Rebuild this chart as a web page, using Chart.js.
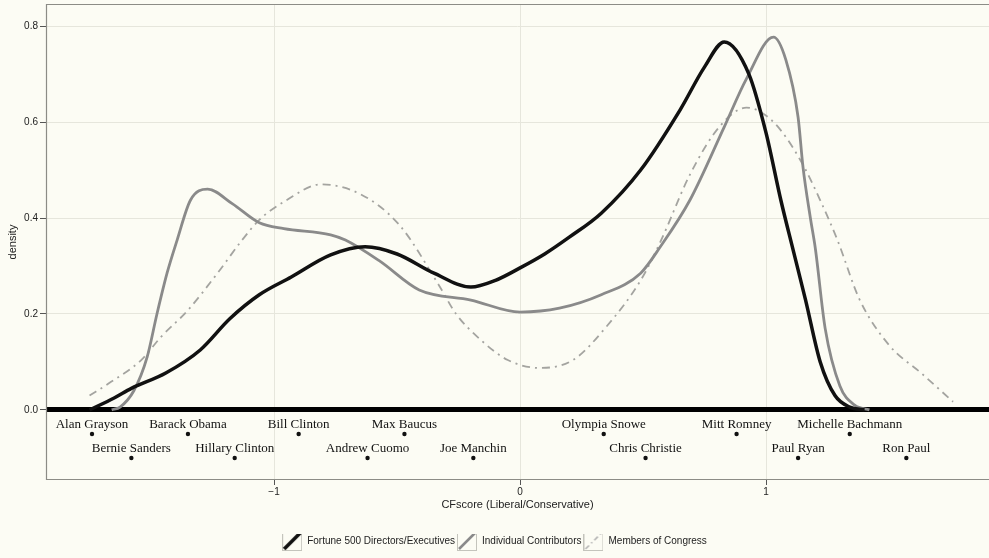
<!DOCTYPE html>
<html>
<head>
<meta charset="utf-8">
<script src="https://cdn.jsdelivr.net/npm/chart.js@4.4.1/dist/chart.umd.min.js"></script>
<style>
html, body { margin: 0; padding: 0; background: #fcfcf4; }
</style>
</head>
<body>
<canvas id="chart" width="989" height="558"></canvas>
<script>
'use strict';

// density curves
let fortuneX = [-1.75, -1.65, -1.58, -1.44, -1.30, -1.18, -1.06, -0.93, -0.77, -0.63, -0.50, -0.35, -0.20, -0.10, 0.00, 0.10, 0.20, 0.33, 0.49, 0.65, 0.75, 0.83, 0.93, 1.00, 1.06, 1.11, 1.16, 1.22, 1.28, 1.34, 1.40];
let fortuneY = [0.000, 0.025, 0.045, 0.077, 0.125, 0.190, 0.240, 0.277, 0.323, 0.340, 0.325, 0.285, 0.256, 0.270, 0.296, 0.325, 0.360, 0.410, 0.500, 0.625, 0.715, 0.767, 0.700, 0.577, 0.437, 0.333, 0.230, 0.100, 0.030, 0.006, 0.000];

let indivX = [-1.66, -1.626, -1.57, -1.516, -1.476, -1.435, -1.394, -1.34, -1.27, -1.17, -1.06, -0.96, -0.77, -0.71, -0.57, -0.41, -0.20, 0.00, 0.16, 0.33, 0.49, 0.57, 0.69, 0.83, 0.92, 1.03, 1.08, 1.13, 1.15, 1.18, 1.20, 1.24, 1.30, 1.36, 1.42];
let indivY = [0.000, 0.006, 0.040, 0.110, 0.200, 0.285, 0.354, 0.437, 0.460, 0.430, 0.390, 0.378, 0.365, 0.354, 0.310, 0.250, 0.229, 0.204, 0.212, 0.240, 0.285, 0.340, 0.437, 0.590, 0.690, 0.777, 0.730, 0.610, 0.506, 0.400, 0.337, 0.170, 0.050, 0.010, 0.000];

let congressX = [-1.75, -1.67, -1.54, -1.46, -1.35, -1.23, -1.13, -1.06, -0.95, -0.81, -0.65, -0.49, -0.33, -0.26, -0.16, -0.05, 0.08, 0.215, 0.35, 0.49, 0.57, 0.69, 0.81, 0.92, 1.03, 1.14, 1.22, 1.29, 1.38, 1.50, 1.63, 1.76];
let congressY = [0.030, 0.056, 0.104, 0.152, 0.208, 0.285, 0.354, 0.396, 0.437, 0.470, 0.450, 0.385, 0.260, 0.200, 0.146, 0.104, 0.0875, 0.104, 0.173, 0.270, 0.350, 0.490, 0.590, 0.630, 0.600, 0.520, 0.437, 0.354, 0.230, 0.135, 0.077, 0.017];

let seriesNames = ['Fortune 500 Directors/Executives', 'Individual Contributors', 'Members of Congress'];

// politicians shown under the axis
let polNames = ['Alan Grayson', 'Bernie Sanders', 'Barack Obama', 'Hillary Clinton', 'Bill Clinton', 'Andrew Cuomo', 'Max Baucus', 'Joe Manchin', 'Olympia Snowe', 'Chris Christie', 'Mitt Romney', 'Paul Ryan', 'Michelle Bachmann', 'Ron Paul'];
let polScore = [-1.74, -1.58, -1.35, -1.16, -0.90, -0.62, -0.47, -0.19, 0.34, 0.51, 0.88, 1.13, 1.34, 1.57];
let polRow = [-0.05, -0.10, -0.05, -0.10, -0.05, -0.10, -0.05, -0.10, -0.05, -0.10, -0.05, -0.10, -0.05, -0.10];

let xTicks = [-1, 0, 1];
let yTicks = [0, 0.2, 0.4, 0.6, 0.8];

const bg = '#fcfcf4';

function pts(xs, ys) {
    return xs.map((x, i) => ({ x: x, y: ys[i] }));
}

function legendIcon(color, width, dash) {
    let c = document.createElement('canvas');
    c.width = 20;
    c.height = 20;
    let g = c.getContext('2d');
    g.fillStyle = bg;
    g.fillRect(0, 0, 20, 20);
    g.strokeStyle = '#c4c4bc';
    g.lineWidth = 1;
    g.strokeRect(0.5, 0.5, 19, 19);
    g.strokeStyle = color;
    g.lineWidth = width;
    g.setLineDash(dash);
    g.beginPath();
    g.moveTo(2, 18);
    g.lineTo(18, 2);
    g.stroke();
    return c;
}

let icons = [
    legendIcon('#111', 3.5, []),
    legendIcon('#8a8a8a', 2.5, []),
    legendIcon('#b0b0b0', 1.5, [5, 3, 1.5, 3])
];

const backgroundPlugin = {
    id: 'bg',
    beforeDraw(chart) {
        let ctx = chart.ctx;
        ctx.save();
        ctx.fillStyle = bg;
        ctx.fillRect(0, 0, chart.width, chart.height);
        ctx.restore();
    }
};

const framePlugin = {
    id: 'frame',
    afterDraw(chart) {
        let a = chart.chartArea;
        let ctx = chart.ctx;
        ctx.save();
        ctx.strokeStyle = '#8c8c86';
        ctx.lineWidth = 1.2;
        ctx.beginPath();
        ctx.moveTo(chart.width, a.top + 0.5);
        ctx.lineTo(a.left + 0.5, a.top + 0.5);
        ctx.lineTo(a.left + 0.5, a.bottom - 0.5);
        ctx.lineTo(chart.width, a.bottom - 0.5);
        ctx.stroke();
        ctx.restore();
    }
};

const namesPlugin = {
    id: 'names',
    afterDatasetsDraw(chart) {
        let meta = chart.getDatasetMeta(3);
        let ctx = chart.ctx;
        ctx.save();
        ctx.font = '13px "Liberation Serif"';
        ctx.fillStyle = '#111';
        ctx.textAlign = 'center';
        ctx.textBaseline = 'alphabetic';
        meta.data.forEach((p, i) => {
            ctx.fillText(polNames[i], p.x, p.y - 5.5);
        });
        ctx.restore();
    }
};

let chartObj = document.getElementById('chart').getContext('2d');

let chart = new Chart(chartObj, {
    type: 'scatter',
    data: {
        datasets: [{
            label: seriesNames[0],
            data: pts(fortuneX, fortuneY),
            showLine: true,
            borderColor: '#111',
            borderWidth: 3.5,
            pointRadius: 0,
            cubicInterpolationMode: 'monotone'
        }, {
            label: seriesNames[1],
            data: pts(indivX, indivY),
            showLine: true,
            borderColor: '#8a8a8a',
            borderWidth: 2.8,
            pointRadius: 0,
            cubicInterpolationMode: 'monotone'
        }, {
            label: seriesNames[2],
            data: pts(congressX, congressY),
            showLine: true,
            borderColor: '#a4a4a0',
            borderWidth: 1.8,
            borderDash: [8, 5, 2, 5],
            pointRadius: 0,
            cubicInterpolationMode: 'monotone'
        }, {
            label: 'politicians',
            data: pts(polScore, polRow),
            showLine: false,
            pointRadius: 2.2,
            pointBackgroundColor: '#111',
            pointBorderWidth: 0
        }]
    },
    options: {
        responsive: false,
        animation: false,
        devicePixelRatio: 1,
        layout: { autoPadding: false, padding: { top: 4, bottom: 2, left: 0, right: 0 } },
        plugins: {
            tooltip: { enabled: false },
            legend: {
                position: 'bottom',
                labels: {
                    usePointStyle: true,
                    pointStyleWidth: 20,
                    padding: 2,
                    color: '#222',
                    font: { family: '"Liberation Sans"', size: 10 },
                    generateLabels: () => seriesNames.map((name, i) => ({
                        text: name,
                        pointStyle: icons[i],
                        datasetIndex: i,
                        hidden: false,
                        lineWidth: 0,
                        fontColor: '#222'
                    }))
                }
            }
        },
        scales: {
            x: {
                type: 'linear',
                min: -1.927,
                max: 1.906,
                afterBuildTicks: (axis) => { axis.ticks = xTicks.map(v => ({ value: v })); },
                afterFit: (axis) => {
                    axis.height = 54;
                    axis.paddingLeft = 0;
                    axis.paddingRight = 0;
                },
                border: { display: false },
                grid: { color: '#e6e6dc', tickColor: '#555', tickLength: 5, tickWidth: 1 },
                ticks: {
                    color: '#222',
                    padding: 1,
                    font: { family: '"Liberation Sans"', size: 10 },
                    callback: (v) => (v < 0 ? '\u2212' + Math.abs(v) : String(v))
                },
                title: {
                    display: true,
                    text: 'CFscore (Liberal/Conservative)',
                    color: '#222',
                    font: { family: '"Liberation Sans"', size: 11 },
                    padding: { top: 0, bottom: 22 }
                }
            },
            y: {
                min: -0.146,
                max: 0.846,
                afterBuildTicks: (axis) => { axis.ticks = yTicks.map(v => ({ value: v })); },
                afterFit: (axis) => {
                    axis.width = 46;
                    axis.paddingTop = 0;
                    axis.paddingBottom = 0;
                },
                border: { display: false },
                grid: {
                    color: (c) => (c.tick && c.tick.value === 0 ? '#000' : '#e6e6dc'),
                    lineWidth: (c) => (c.tick && c.tick.value === 0 ? 5 : 1),
                    tickColor: '#555',
                    tickLength: 6,
                    tickWidth: 1
                },
                ticks: {
                    color: '#222',
                    padding: 2,
                    font: { family: '"Liberation Sans"', size: 10 },
                    callback: (v) => v.toFixed(1)
                },
                title: {
                    display: true,
                    text: 'density',
                    color: '#222',
                    font: { family: '"Liberation Sans"', size: 11 },
                    padding: { top: 6, bottom: 0 }
                }
            }
        }
    },
    plugins: [backgroundPlugin, framePlugin, namesPlugin]
});
</script>
</body>
</html>
